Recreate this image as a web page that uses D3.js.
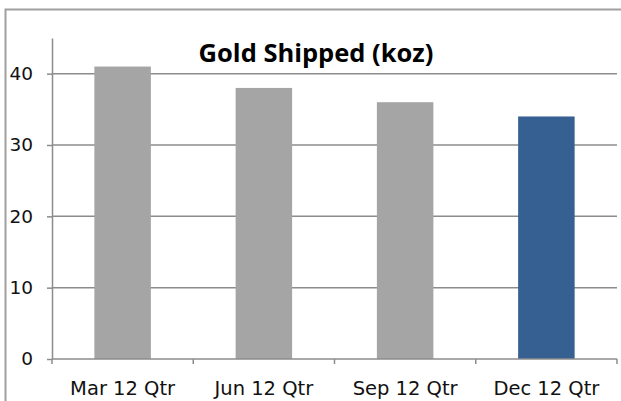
<!DOCTYPE html>
<html>
<head>
<meta charset="utf-8">
<script src="https://cdn.jsdelivr.net/npm/d3@7"></script>
<style>
  body { margin: 0; background: #fff; }
  svg { display: block; }
</style>
</head>
<body>
<div id="chart"></div>
<script>
const categories = ["Mar 12 Qtr", "Jun 12 Qtr", "Sep 12 Qtr", "Dec 12 Qtr"]
const shipped = [41, 38, 36, 34]
const yTicks = [0, 10, 20, 30, 40]
const barColors = ["#a5a5a5", "#a5a5a5", "#a5a5a5", "#366092"]

const W = 621, H = 401
const plotL = 52, plotR = 617, plotT = 38, plotB = 359

const svg = d3.select("#chart").append("svg").attr("width", W).attr("height", H)

// outer frame (only top/left edges visible in the crop)
svg.append("path")
    .attr("d", `M5.5,${H} V9.5 H${W}`)
    .attr("fill", "none").attr("stroke", "#a0a0a0").attr("stroke-width", 2)

const x = d3.scaleBand().domain(categories).range([plotL, plotR]).paddingInner(0.6).paddingOuter(0.3)
const xOuter = d3.scaleBand().domain(categories).range([plotL, plotR])
const y = d3.scaleLinear().domain([0, 45]).range([plotB, plotT])

// gridlines
svg.append("g").selectAll("line").data(yTicks.filter(d => d > 0)).join("line")
    .attr("x1", plotL).attr("x2", plotR)
    .attr("y1", d => y(d)).attr("y2", d => y(d))
    .attr("stroke", "#8c8c8c").attr("stroke-width", 1.5)

// bars
svg.append("g").selectAll("rect").data(shipped).join("rect")
    .attr("x", (d, i) => x(categories[i]))
    .attr("width", x.bandwidth())
    .attr("y", d => y(d))
    .attr("height", d => y(0) - y(d))
    .attr("fill", (d, i) => barColors[i])

// y axis
const yAxis = d3.axisLeft(y).tickValues(yTicks).tickSize(5).tickPadding(14).tickSizeOuter(0)
const gy = svg.append("g").attr("transform", `translate(${plotL},0)`).call(yAxis)
gy.select(".domain").attr("stroke", "#8c8c8c").attr("stroke-width", 1.5)
gy.selectAll(".tick line").attr("stroke", "#8c8c8c").attr("stroke-width", 1.5)
gy.selectAll("text").attr("font-family", "'Century Gothic', 'DejaVu Sans', sans-serif")
    .attr("font-size", 18.5).attr("fill", "#111")

// x axis: ticks on category boundaries
svg.append("line").attr("x1", plotL).attr("x2", plotR).attr("y1", plotB).attr("y2", plotB)
    .attr("stroke", "#8c8c8c").attr("stroke-width", 1.5)
const bounds = categories.map(c => xOuter(c)).concat([plotR])
svg.append("g").selectAll("line").data(bounds).join("line")
    .attr("x1", d => d).attr("x2", d => d).attr("y1", plotB).attr("y2", plotB + 5)
    .attr("stroke", "#8c8c8c").attr("stroke-width", 1.5)
svg.append("g").selectAll("text").data(categories).join("text")
    .attr("x", d => xOuter(d) + xOuter.bandwidth() / 2)
    .attr("y", 395)
    .attr("text-anchor", "middle")
    .attr("font-family", "'Century Gothic', 'DejaVu Sans', sans-serif")
    .attr("font-size", 19.5).attr("fill", "#111")
    .text(d => d)

// title
svg.append("text").attr("x", 316).attr("y", 62).attr("text-anchor", "middle")
    .attr("font-family", "'Open Sans', sans-serif").attr("font-weight", "bold")
    .attr("font-size", 25.5).attr("fill", "#000")
    .text("Gold Shipped (koz)")
</script>
</body>
</html>
